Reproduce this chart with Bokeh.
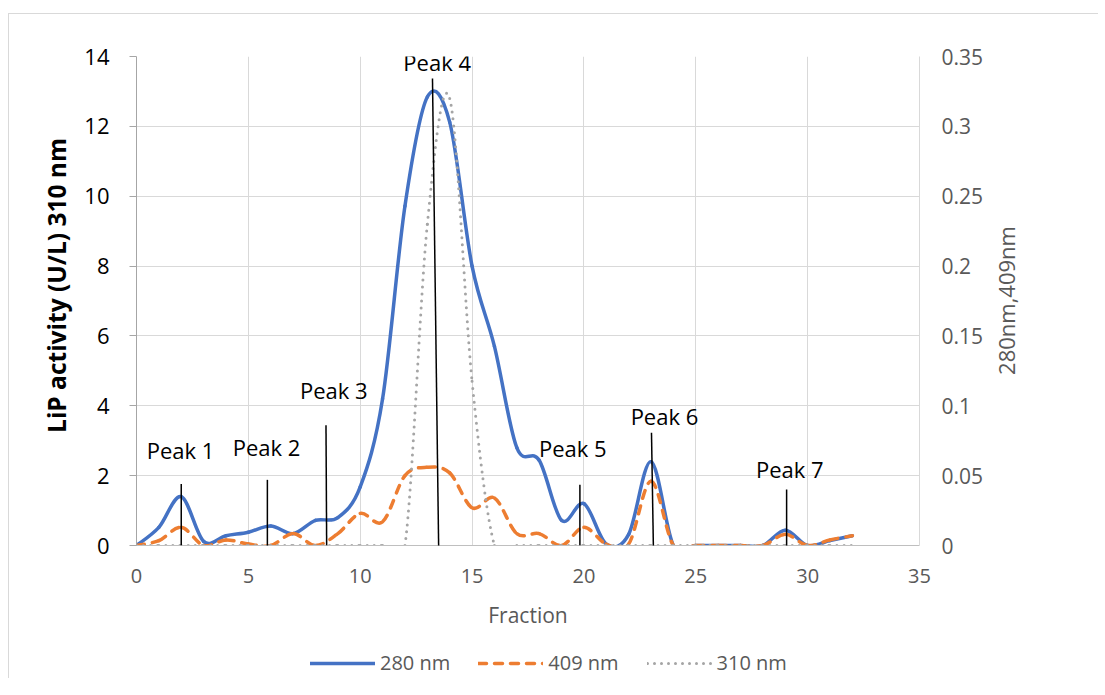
import numpy as np
from bokeh.plotting import figure
from bokeh.layouts import column, row
from bokeh.core.properties import value
from bokeh.models import (Range1d, LinearAxis, FixedTicker, Legend, LegendItem, Label,
                          ColumnDataSource, LabelSet, Arrow, CustomJSTickFormatter)
from bokeh.embed import file_html
from bokeh.resources import INLINE

# ---------------- data ----------------
fraction = list(range(33))
a280 = [0, 0.013, 0.035, 0.003, 0.007, 0.0095, 0.014, 0.0085, 0.018, 0.02,
        0.042, 0.105, 0.243, 0.321, 0.303, 0.2, 0.1425, 0.07, 0.061, 0.018,
        0.03, 0.001, 0.008, 0.06, 0, 0, 0, 0, 0, 0.011, 0, 0.0035, 0.007]
a409 = [0, 0.0035, 0.013, 0, 0.004, 0.001, 0, 0.0085, 0, 0.0085,
        0.023, 0.017, 0.05, 0.056, 0.052, 0.027, 0.034, 0.0085, 0.0085, 0,
        0.013, 0.001, 0.001, 0.046, 0, 0, 0, 0, 0, 0.008, 0, 0.004, 0.007]
lip310 = [0, 0, 0, 0, 0, 0, 0, 0, 0, 0,
          0, 0, 0, 9.2, 12.8, 4.7, 0, 0, 0, 0,
          0, 0, 0, 0, 0, 0, 0, 0, 0, 0, 0, 0, 0]

peak_names = ["Peak 1", "Peak 2", "Peak 3", "Peak 4", "Peak 5", "Peak 6", "Peak 7"]
peak_label_x = [1.97, 5.81, 8.82, 13.44, 19.5, 23.6, 29.2]
peak_label_y = [2.72, 2.83, 4.44, 13.84, 2.78, 3.72, 2.2]
peak_top_x = [2.0, 5.85, 8.47, 13.23, 19.82, 23.02, 29.06]
peak_top_y = [1.76, 1.88, 3.44, 13.37, 1.74, 3.23, 1.6]
peak_bot_x = [2.0, 5.85, 8.5, 13.51, 19.82, 23.11, 29.06]
peak_bot_y = [0.0, -0.1, 0.0, -0.25, 0.0, -0.24, -0.09]

x_ticks = [0, 5, 10, 15, 20, 25, 30, 35]
left_ticks = [0, 2, 4, 6, 8, 10, 12, 14]
right_ticks = [0, 0.05, 0.1, 0.15, 0.2, 0.25, 0.3, 0.35]
series_names = ["280 nm", "409 nm", "310 nm"]
x_title = "Fraction"
left_title = "LiP activity (U/L) 310 nm"
right_title = "280nm,409nm"

FONT = "Open Sans"
C280, C409, C310 = "#4472C4", "#ED7D31", "#A5A5A5"


def smooth_segments(xs, ys):
    """Bezier control points (Excel-style smoothing) through the data points."""
    x = np.asarray(xs, float)
    y = np.asarray(ys, float)
    n = len(x)
    xp = np.concatenate([[x[0]], x, [x[-1]]])
    yp = np.concatenate([[y[0]], y, [y[-1]]])
    cx0 = x[:-1] + (xp[2:n + 1] - xp[0:n - 1]) / 6.0
    cy0 = y[:-1] + (yp[2:n + 1] - yp[0:n - 1]) / 6.0
    cx1 = x[1:] - (xp[3:n + 2] - xp[1:n]) / 6.0
    cy1 = y[1:] - (yp[3:n + 2] - yp[1:n]) / 6.0
    return dict(x0=x[:-1], y0=y[:-1], x1=x[1:], y1=y[1:],
                cx0=cx0, cy0=cy0, cx1=cx1, cy1=cy1)


def strip(width, height):
    f = figure(width=width, height=height, x_range=Range1d(0, 1), y_range=Range1d(0, 1),
               output_backend="svg", toolbar_location=None,
               min_border=0, background_fill_color="white", border_fill_color="white")
    f.axis.visible = False
    f.grid.visible = False
    f.outline_line_color = None
    return f


p = figure(frame_width=783, frame_height=489,
           x_range=Range1d(0, 35), y_range=Range1d(0, 14),
           output_backend="svg", toolbar_location=None,
           min_border_left=60, min_border_right=70,
           min_border_top=42, min_border_bottom=103,
           background_fill_color="white", border_fill_color="white")
p.outline_line_color = None
p.extra_y_ranges = {"abs": Range1d(0, 0.35)}

# grids
p.xgrid.ticker = FixedTicker(ticks=x_ticks)
p.ygrid.ticker = FixedTicker(ticks=left_ticks)
for g in (p.xgrid, p.ygrid):
    g.grid_line_color = "#d9d9d9"
    g.grid_line_width = 1

# x axis
xa = p.xaxis[0]
xa.ticker = FixedTicker(ticks=x_ticks)
xa.axis_label = x_title
xa.axis_line_color = "#bfbfbf"
xa.major_tick_line_color = None
xa.major_tick_out = 0
xa.major_tick_in = 0
xa.minor_tick_line_color = None
xa.major_label_text_font = FONT
xa.major_label_text_font_size = "20px"
xa.major_label_text_color = "#595959"
xa.major_label_standoff = 23
xa.axis_label_text_font = FONT
xa.axis_label_text_font_size = "21px"
xa.axis_label_text_font_style = "normal"
xa.axis_label_text_color = "#595959"
xa.axis_label_standoff = 15

# left axis (ticks); title drawn in a narrow strip to the left
ya = p.yaxis[0]
ya.ticker = FixedTicker(ticks=left_ticks)
ya.axis_line_color = "#a6a6a6"
ya.major_tick_line_color = "#a6a6a6"
ya.major_tick_out = 7
ya.major_tick_in = 0
ya.minor_tick_line_color = None
ya.major_label_text_font = FONT
ya.major_label_text_font_size = "22px"
ya.major_label_text_color = "#000000"
ya.major_label_standoff = 20

# right axis (ticks); title drawn in a narrow strip to the right
ra = LinearAxis(y_range_name="abs", ticker=FixedTicker(ticks=right_ticks),
                formatter=CustomJSTickFormatter(code="return (Math.round(tick*100)/100).toString()"))
ra.axis_line_color = "#d9d9d9"
ra.major_tick_line_color = None
ra.major_tick_out = 0
ra.major_tick_in = 0
ra.minor_tick_line_color = None
ra.major_label_text_font = FONT
ra.major_label_text_font_size = "21px"
ra.major_label_text_color = "#595959"
ra.major_label_standoff = 22
p.add_layout(ra, "right")

# series (smoothed through the data points)
s280 = ColumnDataSource(smooth_segments(fraction, a280))
s409 = ColumnDataSource(smooth_segments(fraction, a409))
s310 = ColumnDataSource(smooth_segments(fraction, lip310))

bz = dict(x0="x0", y0="y0", x1="x1", y1="y1", cx0="cx0", cy0="cy0", cx1="cx1", cy1="cy1")
p.bezier(source=s280, y_range_name="abs", line_color=C280,
         line_width=3.5, line_cap="round", line_join="round", **bz)
p.bezier(source=s409, y_range_name="abs", line_color=C409,
         line_width=3.5, line_dash="8 8", line_cap="round", **bz)
p.bezier(source=s310, line_color=C310,
         line_width=3, line_dash="0 7", line_cap="round", **bz)

# peak markers
peak_src = ColumnDataSource(dict(x0=peak_top_x, y0=peak_top_y, x1=peak_bot_x, y1=peak_bot_y,
                                 lx=peak_label_x, ly=peak_label_y, name=peak_names))
p.add_layout(Arrow(source=peak_src, x_start="x0", y_start="y0", x_end="x1", y_end="y1",
                   start=None, end=None, line_color="black", line_width=1.5))
p.add_layout(LabelSet(source=peak_src, x="lx", y="ly", text="name",
                      text_align="center", text_baseline="middle",
                      text_font=value(FONT), text_font_size=value("22px"),
                      text_color="black"))

# left-axis title strip
lt = strip(67, 634)
lt.add_layout(Label(x=47, y=260, x_units="screen", y_units="screen",
                    text=left_title, angle=np.pi / 2,
                    text_align="center", text_baseline="middle",
                    text_font=FONT, text_font_size="24.5px", text_font_style="bold",
                    text_color="#000000"))

# right-axis title strip
tf = strip(60, 634)
tf.add_layout(Label(x=16, y=245, x_units="screen", y_units="screen",
                    text=right_title, angle=np.pi / 2,
                    text_align="center", text_baseline="middle",
                    text_font=FONT, text_font_size="22px", text_color="#595959"))

# legend strip below the chart (legend swatches use the series, kept out of view)
lg = figure(width=1089, height=30, x_range=Range1d(0, 1), y_range=Range1d(-2, -1),
            output_backend="svg", toolbar_location=None,
            min_border=0, background_fill_color="white", border_fill_color="white")
lg.axis.visible = False
lg.grid.visible = False
lg.outline_line_color = None
l280 = lg.line(x=fraction, y=a280, line_color=C280, line_width=3.5, line_cap="round")
l409 = lg.line(x=fraction, y=a409, line_color=C409, line_width=3.5, line_dash="8 8", line_cap="round")
l310 = lg.line(x=fraction, y=lip310, line_color=C310, line_width=3, line_dash="0 7", line_cap="round")
legend = Legend(items=[LegendItem(label=series_names[0], renderers=[l280]),
                       LegendItem(label=series_names[1], renderers=[l409]),
                       LegendItem(label=series_names[2], renderers=[l310])],
                orientation="horizontal", location=(301, 2),
                glyph_width=65, glyph_height=20, label_standoff=5, spacing=28,
                padding=0, margin=0, border_line_color=None,
                background_fill_alpha=0,
                label_text_font=FONT, label_text_font_size="20px",
                label_text_color="#595959")
lg.add_layout(legend, "center")

layout = column(row(lt, p, tf, spacing=0), lg, spacing=0)
layout.styles = {"margin-top": "13px", "margin-left": "8px",
                 "border-left": "1px solid #d9d9d9", "border-top": "1px solid #d9d9d9"}

open("out.html", "w").write(file_html(layout, INLINE))
